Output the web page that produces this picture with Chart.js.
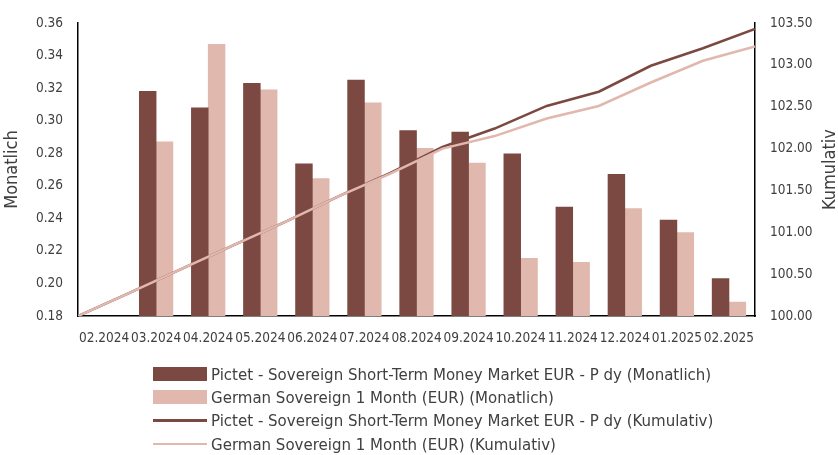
<!DOCTYPE html>
<html>
<head>
<meta charset="utf-8">
<script src="https://cdn.jsdelivr.net/npm/chart.js@4.4.1/dist/chart.umd.min.js"></script>
<style>
  html, body { margin: 0; padding: 0; background: #fff; }
  #wrap { position: relative; width: 838px; height: 455px; }
  #legend { position: absolute; left: 153px; top: 362px; font-family: "Liberation Sans Narrow", "DejaVu Sans Condensed", sans-serif; font-size: 16.7px; color: #404040; }
  .item { height: 23.4px; display: flex; align-items: center; white-space: nowrap; }
  .sym { width: 54px; margin-right: 4px; }
</style>
</head>
<body>
<div id="wrap">
  <canvas id="chart" width="838" height="455"></canvas>
  <div id="legend"></div>
</div>
<script>
const months = ['02.2024', '03.2024', '04.2024', '05.2024', '06.2024', '07.2024', '08.2024',
                '09.2024', '10.2024', '11.2024', '12.2024', '01.2025', '02.2025'];

// monthly returns (left axis)
const pictetMonthly = [null, 0.318, 0.308, 0.323, 0.2735, 0.325, 0.294, 0.293, 0.2796, 0.247, 0.267, 0.239, 0.203];
const germanMonthly = [null, 0.287, 0.347, 0.319, 0.2645, 0.311, 0.283, 0.274, 0.2155, 0.213, 0.246, 0.2313, 0.1886];

// cumulative index at month ends (right axis), position 0 = start
const cumSteps = [0, 1, 2, 3, 4, 5, 6, 7, 8, 9, 10, 11, 12, 13];
const pictetCum = [100.00, 100.28, 100.565, 100.85, 101.13, 101.43, 101.71, 102.02, 102.24, 102.51, 102.68, 102.99, 103.20, 103.43];
const germanCum = [100.00, 100.28, 100.565, 100.85, 101.13, 101.43, 101.70, 102.00, 102.15, 102.36, 102.51, 102.79, 103.05, 103.22];

const darkColor = '#7B4941';
const lightColor = '#E0B8AE';
const textColor = '#404040';
const fontFamily = '"Liberation Sans Narrow", "DejaVu Sans Condensed", sans-serif';

const legendItems = [
    { label: 'Pictet - Sovereign Short-Term Money Market EUR - P dy (Monatlich)', color: darkColor, type: 'box' },
    { label: 'German Sovereign 1 Month (EUR) (Monatlich)', color: lightColor, type: 'box' },
    { label: 'Pictet - Sovereign Short-Term Money Market EUR - P dy (Kumulativ)', color: darkColor, type: 'line' },
    { label: 'German Sovereign 1 Month (EUR) (Kumulativ)', color: lightColor, type: 'line' }
];

const rightTitle = {
    id: 'rightTitle',
    afterDraw(chart) {
        const ctx = chart.ctx;
        const area = chart.chartArea;
        ctx.save();
        ctx.translate(830, (area.top + area.bottom) / 2);
        ctx.rotate(-Math.PI / 2);
        ctx.font = '18px ' + fontFamily;
        ctx.fillStyle = textColor;
        ctx.textAlign = 'center';
        ctx.textBaseline = 'middle';
        ctx.fillText('Kumulativ', 0, 0);
        ctx.restore();
    }
};

const tickFont = { family: fontFamily, size: 13.5 };

const ctx = document.getElementById('chart').getContext('2d');
new Chart(ctx, {
    data: {
        labels: months,
        datasets: [
            {
                type: 'line', label: legendItems[3].label, data: cumSteps.map((s, i) => ({ x: s, y: germanCum[i] })),
                xAxisID: 'xl', yAxisID: 'y2', borderColor: lightColor, borderWidth: 2.5, pointRadius: 0, order: 0
            },
            {
                type: 'line', label: legendItems[2].label, data: cumSteps.map((s, i) => ({ x: s, y: pictetCum[i] })),
                xAxisID: 'xl', yAxisID: 'y2', borderColor: darkColor, borderWidth: 2.5, pointRadius: 0, order: 1
            },
            {
                type: 'bar', label: legendItems[0].label, data: pictetMonthly, backgroundColor: darkColor,
                xAxisID: 'x', yAxisID: 'y', barThickness: 16.8, order: 2
            },
            {
                type: 'bar', label: legendItems[1].label, data: germanMonthly, backgroundColor: lightColor,
                xAxisID: 'x', yAxisID: 'y', barThickness: 16.8, order: 2
            }
        ]
    },
    options: {
        responsive: false,
        animation: false,
        layout: { padding: { top: 22, left: 0, right: 0, bottom: 0 } },
        plugins: { legend: { display: false }, tooltip: { enabled: false } },
        scales: {
            x: {
                position: 'bottom',
                grid: { display: false, drawTicks: false },
                border: { display: true, color: '#000', width: 1.5 },
                ticks: { color: textColor, font: tickFont, padding: 14, maxRotation: 0, autoSkip: false },
                afterFit(scale) { scale.height = 455 - 316; }
            },
            xl: { type: 'linear', display: false, min: 0, max: 13 },
            y: {
                position: 'left', min: 0.18, max: 0.36,
                grid: { display: false, drawTicks: false },
                border: { display: true, color: '#000', width: 1.5 },
                ticks: { stepSize: 0.02, color: textColor, font: tickFont, padding: 15,
                         callback: v => v.toFixed(2) },
                title: { display: true, text: 'Monatlich', color: textColor, font: { family: fontFamily, size: 18 }, padding: 2 },
                afterFit(scale) { scale.width = 78; }
            },
            y2: {
                position: 'right', min: 100, max: 103.5,
                grid: { display: false, drawTicks: false },
                border: { display: true, color: '#000', width: 1.5 },
                ticks: { stepSize: 0.5, color: textColor, font: tickFont, padding: 15,
                         callback: v => v.toFixed(2) },
                afterFit(scale) { scale.width = 838 - 755; }
            }
        }
    },
    plugins: [rightTitle]
});

const legend = document.getElementById('legend');
legendItems.forEach(item => {
    const row = document.createElement('div');
    row.className = 'item';
    const sym = item.type === 'box'
        ? `<span class="sym" style="height:14px;background:${item.color}"></span>`
        : `<span class="sym" style="height:2.5px;background:${item.color}"></span>`;
    row.innerHTML = sym + `<span>${item.label}</span>`;
    legend.appendChild(row);
});
</script>
</body>
</html>
